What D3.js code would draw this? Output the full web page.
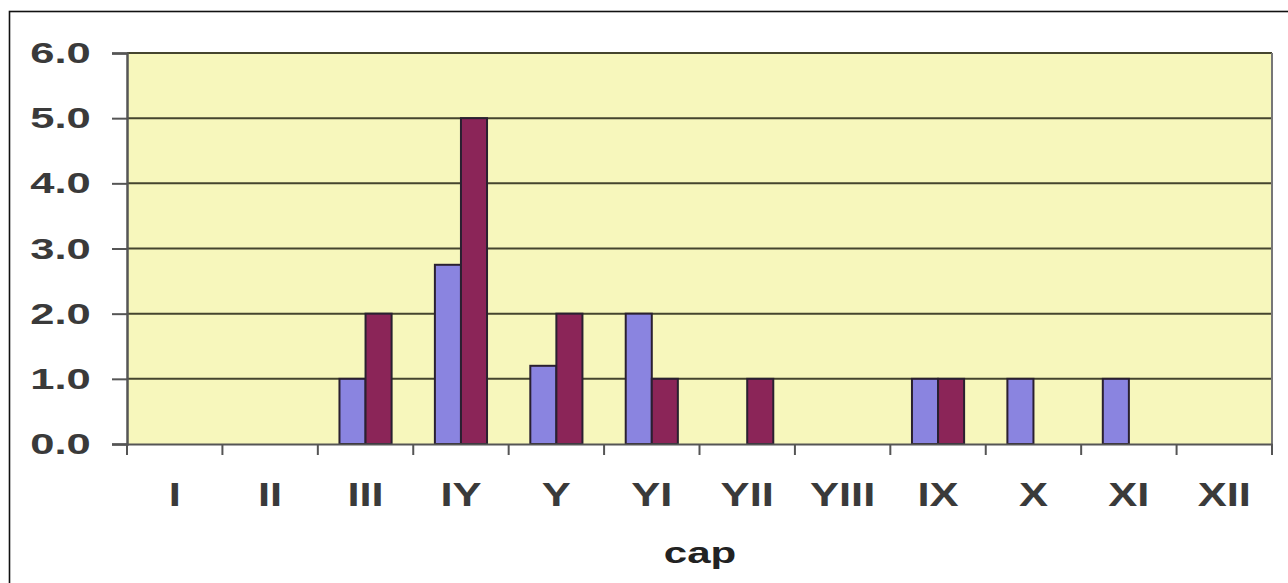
<html>
<head>
<meta charset="utf-8">
<script src="https://d3js.org/d3.v7.min.js"></script>
<style>
    body, html {
        margin: 0;
        padding: 0;
        background: #fff;
        font-family: "Liberation Sans", Arial, sans-serif;
    }
</style>
</head>
<body>
<div id="chart"></div>
<script>

// data
var categories = ["I", "II", "III", "IY", "Y", "YI", "YII", "YIII", "IX", "X", "XI", "XII"];
var seriesNames = ["s1", "s2"];
var seriesBlue   = [0, 0, 1, 2.75, 1.2, 2, 0, 0, 1, 1, 1, 0];
var seriesPurple = [0, 0, 2, 5, 2, 1, 1, 0, 1, 0, 0, 0];
var yTicks = [0, 1, 2, 3, 4, 5, 6];

var colors = {s1: "#8a84e0", s2: "#8b2558"};
var stretch = 1.45;  // the original text is drawn wide
var stretchX = 1.32;

var w = 1288, h = 583;
var margin = {top: 53, right: 16, bottom: 139, left: 127};
var width = w - margin.left - margin.right;
var height = h - margin.top - margin.bottom;

var svg = d3.select("#chart")
    .append("svg")
    .attr("width", w)
    .attr("height", h);

// outer frame
svg.append("rect")
    .attr("x", 9.5).attr("y", 11.5)
    .attr("width", w + 20).attr("height", h + 20)
    .attr("fill", "none")
    .attr("stroke", "#111")
    .attr("stroke-width", 1.6);

var g = svg.append("g")
    .attr("transform", "translate(" + margin.left + "," + margin.top + ")");

var x = d3.scaleBand()
    .domain(categories)
    .range([0, width])
    .paddingInner(0)
    .paddingOuter(0);

var x1 = d3.scaleBand()
    .domain(seriesNames)
    .range([0, x.bandwidth()])
    .paddingOuter(0.83)
    .paddingInner(0);

var y = d3.scaleLinear()
    .domain([0, 6])
    .range([height, 0]);

// plot background
g.append("rect")
    .attr("width", width)
    .attr("height", height)
    .attr("fill", "#f7f7bc");

// gridlines
g.selectAll(".grid")
    .data(yTicks.filter(function(d){ return d > 0; }))
    .enter()
    .append("line")
    .attr("x1", 0).attr("x2", width)
    .attr("y1", function(d){ return y(d); })
    .attr("y2", function(d){ return y(d); })
    .attr("stroke", "#45452e")
    .attr("stroke-width", 2);

// right border
g.append("line")
    .attr("x1", width).attr("x2", width)
    .attr("y1", 0).attr("y2", height)
    .attr("stroke", "#777")
    .attr("stroke-width", 2);

// bars
var rows = categories.map(function(c, i){
    return {cat: c, values: [
        {key: "s1", v: seriesBlue[i]},
        {key: "s2", v: seriesPurple[i]}
    ]};
});

g.append("g")
    .selectAll("g")
    .data(rows)
    .enter()
    .append("g")
    .attr("transform", function(d){ return "translate(" + x(d.cat) + ",0)"; })
    .selectAll("rect")
    .data(function(d){ return d.values.filter(function(e){ return e.v > 0; }); })
    .enter()
    .append("rect")
    .attr("x", function(d){ return x1(d.key); })
    .attr("width", x1.bandwidth())
    .attr("y", function(d){ return y(d.v); })
    .attr("height", function(d){ return height - y(d.v); })
    .attr("fill", function(d){ return colors[d.key]; })
    .attr("stroke", "#2a2030")
    .attr("stroke-width", 2);

// y axis
var yAxis = g.append("g")
    .call(d3.axisLeft(y).tickValues(yTicks).tickFormat(d3.format(".1f")).tickSize(15));
yAxis.select(".domain").attr("stroke", "#555").attr("stroke-width", 2.5);
yAxis.selectAll(".tick line").attr("stroke", "#555").attr("stroke-width", 2);
yAxis.selectAll("text")
    .attr("x", -25)
    .attr("transform", "scale(" + stretch + ",1)")
    .attr("fill", "#3a3a3a")
    .style("font-size", "30px")
    .style("font-weight", "bold")
    .style("font-family", "'Liberation Sans', Arial, sans-serif");

// x axis
var xAxis = g.append("g")
    .attr("transform", "translate(0," + height + ")")
    .call(d3.axisBottom(x).tickSize(0).tickPadding(39));
xAxis.select(".domain").attr("stroke", "#555").attr("stroke-width", 2);
xAxis.selectAll("text")
    .attr("transform", "scale(" + stretchX + ",1)")
    .attr("fill", "#3a3a3a")
    .style("font-size", "33px")
    .style("font-weight", "bold")
    .style("font-family", "'Liberation Sans', Arial, sans-serif");

// tick marks at band edges
g.append("g")
    .selectAll("line")
    .data(categories.concat(["end"]))
    .enter()
    .append("line")
    .attr("x1", function(d, i){ return i < categories.length ? x(d) : width; })
    .attr("x2", function(d, i){ return i < categories.length ? x(d) : width; })
    .attr("y1", height)
    .attr("y2", height + 11)
    .attr("stroke", "#555")
    .attr("stroke-width", 2);

// axis title
svg.append("text")
    .attr("transform", "translate(700,563) scale(" + stretch + ",1)")
    .attr("text-anchor", "middle")
    .attr("fill", "#222")
    .style("font-size", "29px")
    .style("font-weight", "bold")
    .text("cap");

</script>
</body>
</html>
